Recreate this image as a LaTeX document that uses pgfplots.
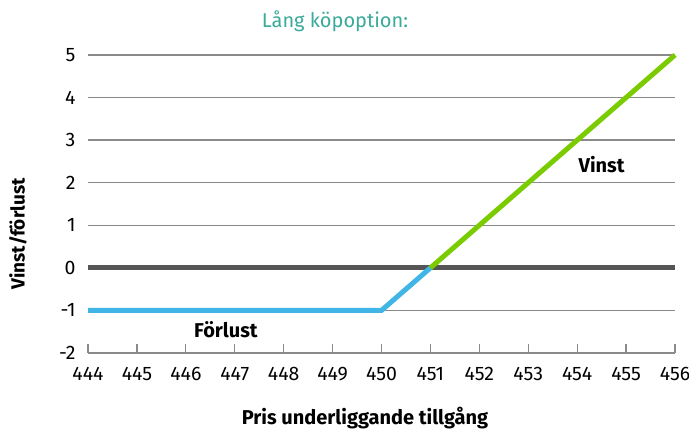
\documentclass[border=0pt]{standalone}
\usepackage{pgfplots}
\pgfplotsset{compat=1.18}
\usepackage{fontspec}
\setmainfont{Fira Sans}
\definecolor{teal1}{HTML}{3AAA9A}
\definecolor{blue1}{HTML}{41B6E6}
\definecolor{green1}{HTML}{7ACC00}
\definecolor{dark1}{HTML}{555555}
\definecolor{grid1}{HTML}{8A8A8A}
\begin{document}
\begin{tikzpicture}[x=1pt,y=1pt]
\path[use as bounding box] (0,0) rectangle (689,430);
\begin{axis}[
  at={(88pt,77pt)}, anchor=south west,
  scale only axis, width=587pt, height=298pt,
  xmin=444, xmax=456, ymin=-2, ymax=5,
  xtick={444,...,456}, ytick={-2,...,5},
  axis x line*=bottom, axis y line*=left,
  y axis line style={draw=none},
  x axis line style={grid1, line width=1.4pt, -},
  xtick style={grid1, line width=1.2pt},
  ytick style={draw=none},
  xtick align=inside, major tick length=9pt,
  ymajorgrids, major grid style={grid1, line width=1.4pt},
  tick label style={font=\fontsize{19.5}{22}\selectfont, text=black},
  /pgf/number format/assume math mode=true,
  /pgf/number format/1000 sep={},
  xticklabel style={anchor=base, yshift=-28pt},
  yticklabel style={anchor=east, xshift=-9pt},
  clip=false,
]
\addplot[dark1, line width=5pt] coordinates {(444,0) (456,0)};
\addplot[blue1, line width=5pt] coordinates {(444,-1) (450,-1) (451,0)};
\addplot[green1, line width=5pt] coordinates {(451,0) (456,5)};
\node[font=\fontsize{20}{22}\selectfont\bfseries] at (axis cs:454.5,2.42) {Vinst};
\node[font=\fontsize{20}{22}\selectfont\bfseries] at (axis cs:446.82,-1.46) {Förlust};
\end{axis}
\node[text=teal1, font=\fontsize{20}{22}\selectfont] at (335,409) {Lång köpoption:};
\node[font=\fontsize{19}{22}\selectfont\bfseries, rotate=90] at (18,196) {Vinst/förlust};
\node[font=\fontsize{20}{22}\selectfont\bfseries] at (365,12) {Pris underliggande tillgång};
\end{tikzpicture}
\end{document}
